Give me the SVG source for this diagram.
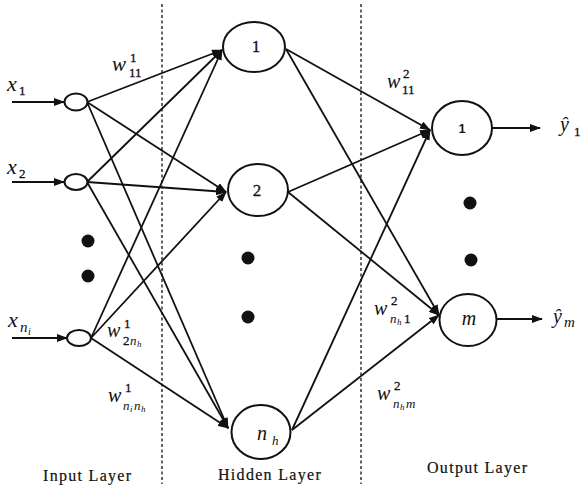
<svg xmlns="http://www.w3.org/2000/svg" width="584" height="488" viewBox="0 0 584 488">
  <style>
    .node { fill: #fff; stroke: #111; stroke-width: 2; }
    .edge { stroke: #111; stroke-width: 1.8; fill: none; }
    .sep { stroke: #222; stroke-width: 1.4; stroke-dasharray: 3 2.5; }
    .dot { fill: #111; }
    .var { font-family: "Liberation Serif", "DejaVu Serif", serif; font-style: italic; fill: #111; }
    .num { font-family: "Liberation Serif", "DejaVu Serif", serif; fill: #111; stroke: #111; stroke-width: 0.3; }
    .layer { font-family: "Liberation Serif", "DejaVu Serif", serif; font-size: 16px; letter-spacing: 1.3px; fill: #111; stroke: #111; stroke-width: 0.2; }
  </style>
  <defs>
    <marker id="arrow" markerUnits="userSpaceOnUse" markerWidth="11" markerHeight="8" refX="10" refY="4" orient="auto">
      <path d="M0,0 L11,4 L0,8 z" fill="#111"/>
    </marker>
  </defs>
  <rect width="584" height="488" fill="#fff"/>

  <!-- layer separators -->
  <g id="separators">
    <line class="sep" x1="162" y1="4" x2="162" y2="484"/>
    <line class="sep" x1="361" y1="4" x2="361" y2="484"/>
  </g>

  <g id="connectors">
    <!-- external inputs -->
    <line class="edge" x1="12" y1="102" x2="64" y2="102" marker-end="url(#arrow)"/>
    <line class="edge" x1="12" y1="182" x2="64" y2="182" marker-end="url(#arrow)"/>
    <line class="edge" x1="12" y1="338" x2="67" y2="338" marker-end="url(#arrow)"/>
    <!-- input to hidden -->
    <line class="edge" x1="87" y1="102" x2="222" y2="50" marker-end="url(#arrow)"/>
    <line class="edge" x1="87" y1="102" x2="226" y2="192" marker-end="url(#arrow)"/>
    <line class="edge" x1="87" y1="102" x2="228" y2="428" marker-end="url(#arrow)"/>
    <line class="edge" x1="87" y1="182" x2="222" y2="50" marker-end="url(#arrow)"/>
    <line class="edge" x1="87" y1="182" x2="226" y2="192" marker-end="url(#arrow)"/>
    <line class="edge" x1="87" y1="182" x2="228" y2="428" marker-end="url(#arrow)"/>
    <line class="edge" x1="91" y1="338" x2="222" y2="50" marker-end="url(#arrow)"/>
    <line class="edge" x1="91" y1="338" x2="226" y2="192" marker-end="url(#arrow)"/>
    <line class="edge" x1="91" y1="338" x2="228" y2="428" marker-end="url(#arrow)"/>
    <!-- hidden to output -->
    <line class="edge" x1="286" y1="49" x2="430" y2="130" marker-end="url(#arrow)"/>
    <line class="edge" x1="286" y1="49" x2="439" y2="315" marker-end="url(#arrow)"/>
    <line class="edge" x1="288" y1="192" x2="430" y2="130" marker-end="url(#arrow)"/>
    <line class="edge" x1="288" y1="192" x2="439" y2="315" marker-end="url(#arrow)"/>
    <line class="edge" x1="292" y1="430" x2="430" y2="130" marker-end="url(#arrow)"/>
    <line class="edge" x1="292" y1="430" x2="439" y2="315" marker-end="url(#arrow)"/>
    <!-- outputs -->
    <line class="edge" x1="492" y1="128" x2="540" y2="128" marker-end="url(#arrow)"/>
    <line class="edge" x1="497" y1="319" x2="542" y2="319" marker-end="url(#arrow)"/>
  </g>

  <!-- input layer -->
  <g id="input-1">
    <ellipse class="node" cx="76" cy="102" rx="11.5" ry="8.5"/>
    <text class="var" x="7" y="91" font-size="22">x</text>
    <text class="num" x="19" y="95" font-size="13">1</text>
  </g>
  <g id="input-2">
    <ellipse class="node" cx="76" cy="182" rx="11.5" ry="8"/>
    <text class="var" x="7" y="174" font-size="22">x</text>
    <text class="num" x="19" y="178" font-size="13">2</text>
  </g>
  <g id="input-ni">
    <ellipse class="node" cx="79" cy="338" rx="12" ry="8"/>
    <text class="var" x="8" y="327" font-size="22">x</text>
    <text class="var" x="20" y="332" font-size="15">n</text>
    <text class="var" x="28" y="335" font-size="10">i</text>
  </g>
  <g id="input-dots">
    <circle class="dot" cx="88" cy="241" r="6.5"/>
    <circle class="dot" cx="88" cy="276" r="6.5"/>
  </g>

  <!-- hidden layer -->
  <g id="hidden-1">
    <ellipse class="node" cx="254" cy="47" rx="31" ry="25"/>
    <text class="num" x="256" y="52" font-size="17" text-anchor="middle">1</text>
  </g>
  <g id="hidden-2">
    <ellipse class="node" cx="258" cy="190" rx="30" ry="26"/>
    <text class="num" x="257" y="196" font-size="17" text-anchor="middle">2</text>
  </g>
  <g id="hidden-nh">
    <ellipse class="node" cx="261" cy="432" rx="29.5" ry="27"/>
    <text class="var" x="257" y="440" font-size="20">n</text>
    <text class="var" x="272" y="445" font-size="13">h</text>
  </g>
  <g id="hidden-dots">
    <circle class="dot" cx="248" cy="258" r="6.5"/>
    <circle class="dot" cx="248" cy="317" r="6.5"/>
  </g>

  <!-- output layer -->
  <g id="output-1">
    <ellipse class="node" cx="462" cy="128" rx="30" ry="27"/>
    <text x="462" y="133" font-size="12" font-weight="bold" text-anchor="middle" font-family="Liberation Sans, Arial, sans-serif" fill="#111">1</text>
    <text class="var" x="560" y="131" font-size="20">ŷ</text>
    <text class="num" x="574" y="136" font-size="13">1</text>
  </g>
  <g id="output-m">
    <ellipse class="node" cx="468" cy="320" rx="28.5" ry="26"/>
    <text class="var" x="469" y="325" font-size="20" text-anchor="middle">m</text>
    <text class="var" x="553" y="323" font-size="20">ŷ</text>
    <text class="var" x="564" y="327" font-size="15">m</text>
  </g>
  <g id="output-dots">
    <circle class="dot" cx="470" cy="203" r="6.5"/>
    <circle class="dot" cx="471" cy="260" r="6.5"/>
  </g>

  <!-- weight labels -->
  <g id="weights">
    <text class="var" x="112" y="71" font-size="21">w</text>
    <text class="num" x="130" y="62" font-size="13">1</text>
    <text class="num" x="129" y="77" font-size="13">11</text>

    <text class="var" x="387" y="88" font-size="20">w</text>
    <text class="num" x="403" y="78" font-size="13">2</text>
    <text class="num" x="402" y="94" font-size="13">11</text>

    <text class="var" x="107" y="337" font-size="20">w</text>
    <text class="num" x="124" y="328" font-size="13">1</text>
    <text class="num" x="123" y="345" font-size="13">2</text>
    <text class="var" x="130" y="345" font-size="13">n</text>
    <text class="var" x="137" y="347" font-size="9">h</text>

    <text class="var" x="108" y="402" font-size="20">w</text>
    <text class="num" x="125" y="392" font-size="13">1</text>
    <text class="var" x="123" y="410" font-size="13">n</text>
    <text class="var" x="130" y="412" font-size="9">i</text>
    <text class="var" x="134" y="410" font-size="13">n</text>
    <text class="var" x="141" y="412" font-size="9">h</text>

    <text class="var" x="374" y="315" font-size="20">w</text>
    <text class="num" x="391" y="305" font-size="13">2</text>
    <text class="var" x="390" y="323" font-size="13">n</text>
    <text class="var" x="397" y="325" font-size="9">h</text>
    <text class="num" x="404" y="323" font-size="13">1</text>

    <text class="var" x="377" y="400" font-size="20">w</text>
    <text class="num" x="394" y="390" font-size="13">2</text>
    <text class="var" x="393" y="408" font-size="13">n</text>
    <text class="var" x="400" y="410" font-size="9">h</text>
    <text class="var" x="406" y="408" font-size="13">m</text>
  </g>

  <!-- layer captions -->
  <g id="captions">
    <text class="layer" x="43" y="481">Input Layer</text>
    <text class="layer" x="218" y="480">Hidden Layer</text>
    <text class="layer" x="427" y="473">Output Layer</text>
  </g>
</svg>
